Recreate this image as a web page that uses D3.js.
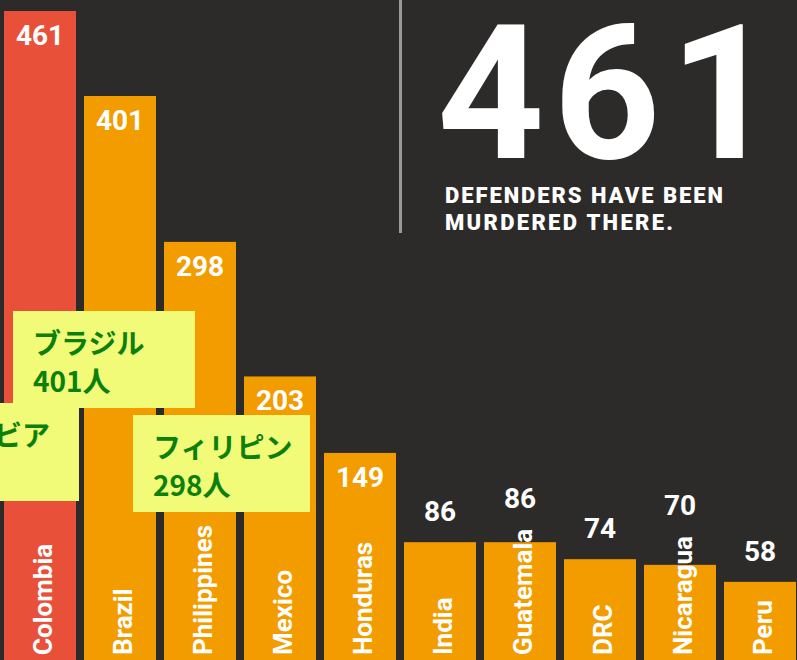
<!DOCTYPE html>
<html>
<head>
<meta charset="utf-8">
<script src="https://cdn.jsdelivr.net/npm/d3@7"></script>
<style>
  html, body { margin: 0; padding: 0; background: #2d2b2a; overflow: hidden; }
  svg { display: block; }
</style>
</head>
<body>
<div id="chart"></div>
<script>
// Murdered land and environmental defenders, by country
const countries = ["Colombia", "Brazil", "Philippines", "Mexico", "Honduras", "India", "Guatemala", "DRC", "Nicaragua", "Peru"];
const killings = [461, 401, 298, 203, 149, 86, 86, 74, 70, 58];
const highlighted = "Colombia";

// Japanese callouts
const noteNames = ["コロンビア", "ブラジル", "フィリピン"];
const noteValues = [461, 401, 298];

// headline block
const headlineValue = "461";
const headlineLines = ["DEFENDERS HAVE BEEN", "MURDERED THERE."];

window.onload = function () {
  const width = 797;
  const height = 660;

  const colors = {
    bg: "#2d2b2a",
    red: "#e8503a",
    orange: "#f39c00",
    note: "#f1fb78",
    noteText: "#0b800b",
    rule: "#9a9a9a",
  };

  const data = countries.map((c, i) => ({ country: c, value: killings[i] }));

  const svg = d3
    .select("#chart")
    .append("svg")
    .attr("width", width)
    .attr("height", height);

  svg.append("rect").attr("width", width).attr("height", height).attr("fill", colors.bg);

  // ==== SCALES ====
  const x = d3
    .scaleBand()
    .domain(countries)
    .range([0, 800])
    .paddingInner(0.1)
    .paddingOuter(0.05);

  const y = d3.scaleLinear().domain([0, d3.max(killings)]).range([664, 11]);

  // ==== BARS ====
  svg
    .selectAll(".bar")
    .data(data)
    .enter()
    .append("rect")
    .attr("class", "bar")
    .attr("x", (d) => x(d.country))
    .attr("y", (d) => y(d.value))
    .attr("width", x.bandwidth())
    .attr("height", (d) => y(0) - y(d.value))
    .attr("fill", (d) => (d.country === highlighted ? colors.red : colors.orange));

  // country names, rotated, inside bars
  const names = svg
    .selectAll(".name")
    .data(data)
    .enter()
    .append("text")
    .attr("class", "name")
    .attr("transform", (d) => `translate(${x(d.country) + x.bandwidth() / 2 + 12}, 655) rotate(-90)`)
    .attr("font-family", "Roboto, sans-serif")
    .attr("font-weight", "bold")
    .attr("font-size", "26px")
    .attr("fill", "#fff")
    .text((d) => d.country);

  names.each(function (d) {
    d.nameTop = 655 - this.getComputedTextLength();
  });

  // value labels: inside tall bars, above short ones
  svg
    .selectAll(".value")
    .data(data)
    .enter()
    .append("text")
    .attr("class", "value")
    .attr("x", (d) => x(d.country) + x.bandwidth() / 2)
    .attr("y", (d) => {
      const top = y(d.value);
      if (y(0) - top > 160) return top + 34;
      return Math.min(top, d.nameTop) - 21;
    })
    .attr("text-anchor", "middle")
    .attr("font-family", "Roboto, sans-serif")
    .attr("font-weight", "bold")
    .attr("font-size", "28px")
    .attr("fill", "#fff")
    .text((d) => d.value);

  // ==== HEADLINE ====
  svg
    .append("line")
    .attr("x1", 400.5)
    .attr("x2", 400.5)
    .attr("y1", 0)
    .attr("y2", 233)
    .attr("stroke", colors.rule)
    .attr("stroke-width", 3);

  svg
    .append("text")
    .attr("x", 437)
    .attr("y", 158)
    .attr("font-family", "Roboto, sans-serif")
    .attr("font-weight", "bold")
    .attr("font-size", "187px")
    .attr("letter-spacing", "9px")
    .attr("fill", "#fff")
    .text(headlineValue);

  const lineWidths = [278, 228];
  svg
    .selectAll(".headline")
    .data(headlineLines)
    .enter()
    .append("text")
    .attr("class", "headline")
    .attr("x", 445)
    .attr("y", (d, i) => 203 + i * 27)
    .attr("font-family", "Roboto, sans-serif")
    .attr("font-weight", "900")
    .attr("font-size", "22px")
    .attr("fill", "#fff")
    .attr("textLength", (d, i) => lineWidths[i])
    .attr("lengthAdjust", "spacing")
    .text((d) => d);

  // ==== CALLOUT BOXES ====
  const noteBoxes = [
    { x: -110, y: 403, w: 189, h: 98 },
    { x: 13, y: 311, w: 182, h: 97 },
    { x: 133, y: 415, w: 177, h: 97 },
  ];

  const notes = svg
    .selectAll(".note")
    .data(noteNames.map((n, i) => ({ name: n, value: noteValues[i], box: noteBoxes[i] })))
    .enter()
    .append("g")
    .attr("class", "note")
    .attr("transform", (d) => `translate(${d.box.x}, ${d.box.y})`);

  notes
    .append("rect")
    .attr("width", (d) => d.box.w)
    .attr("height", (d) => d.box.h)
    .attr("fill", colors.note);

  notes
    .append("text")
    .attr("x", 20)
    .attr("y", 43)
    .attr("font-family", "'Noto Sans CJK JP', sans-serif")
    .attr("font-weight", "bold")
    .attr("font-size", "28px")
    .attr("fill", colors.noteText)
    .text((d) => d.name);

  notes
    .append("text")
    .attr("x", 20)
    .attr("y", 81)
    .attr("font-family", "'Noto Sans CJK JP', sans-serif")
    .attr("font-weight", "bold")
    .attr("font-size", "28px")
    .attr("fill", colors.noteText)
    .text((d) => d.value + "人");
};
</script>
</body>
</html>
